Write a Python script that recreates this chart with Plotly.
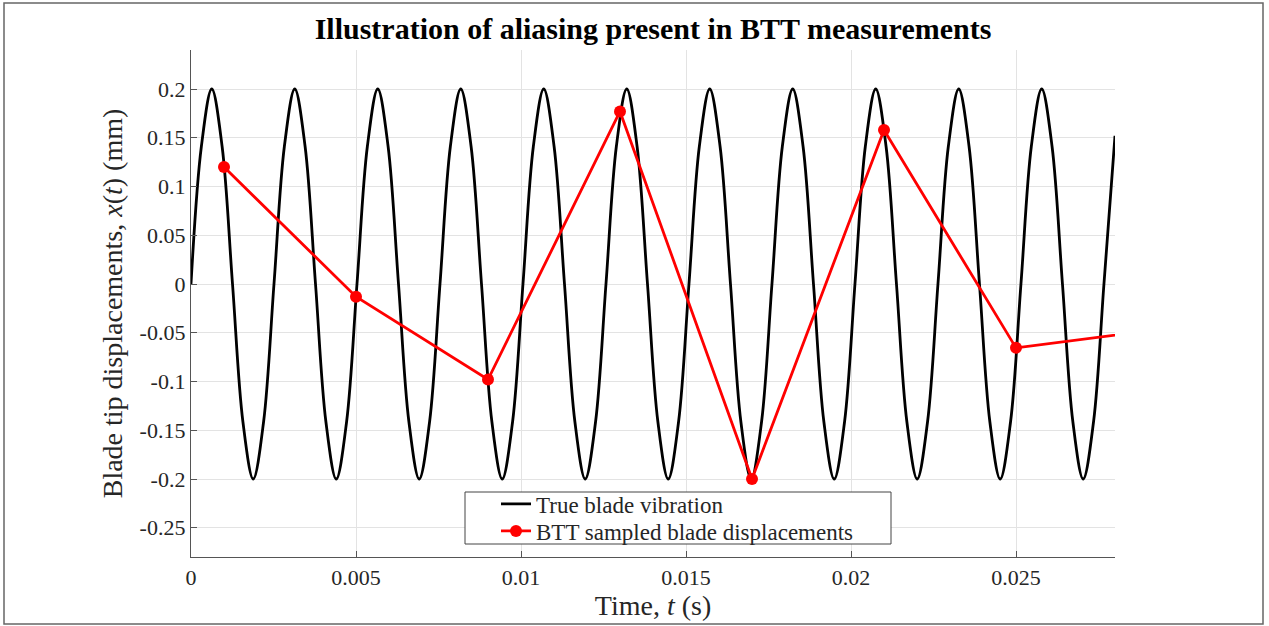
import plotly.graph_objects as go

# True blade vibration, read at eighth-period points
t_true = [0, 0.000314, 0.000629, 0.000943, 0.001258, 0.001572, 0.001886, 0.002201,
          0.002515, 0.002829, 0.003144, 0.003458, 0.003773, 0.004087, 0.004401, 0.004716,
          0.005030, 0.005344, 0.005659, 0.005973, 0.006288, 0.006602, 0.006916, 0.007231,
          0.007545, 0.007859, 0.008174, 0.008488, 0.008803, 0.009117, 0.009431, 0.009746,
          0.010060, 0.010374, 0.010689, 0.011003, 0.011318, 0.011632, 0.011946, 0.012261,
          0.012575, 0.012889, 0.013204, 0.013518, 0.013833, 0.014147, 0.014461, 0.014776,
          0.015090, 0.015404, 0.015719, 0.016033, 0.016348, 0.016662, 0.016976, 0.017291,
          0.017605, 0.017919, 0.018234, 0.018548, 0.018863, 0.019177, 0.019491, 0.019806,
          0.020120, 0.020434, 0.020749, 0.021063, 0.021378, 0.021692, 0.022006, 0.022321,
          0.022635, 0.022949, 0.023264, 0.023578, 0.023893, 0.024207, 0.024521, 0.024836,
          0.025150, 0.025464, 0.025779, 0.026093, 0.026408, 0.026722, 0.027036, 0.027351,
          0.027665, 0.028]
x_true = [0, 0.141, 0.2, 0.141, 0, -0.141, -0.2, -0.141,
          0, 0.141, 0.2, 0.141, 0, -0.141, -0.2, -0.141,
          0, 0.141, 0.2, 0.141, 0, -0.141, -0.2, -0.141,
          0, 0.141, 0.2, 0.141, 0, -0.141, -0.2, -0.141,
          0, 0.141, 0.2, 0.141, 0, -0.141, -0.2, -0.141,
          0, 0.141, 0.2, 0.141, 0, -0.141, -0.2, -0.141,
          0, 0.141, 0.2, 0.141, 0, -0.141, -0.2, -0.141,
          0, 0.141, 0.2, 0.141, 0, -0.141, -0.2, -0.141,
          0, 0.141, 0.2, 0.141, 0, -0.141, -0.2, -0.141,
          0, 0.141, 0.2, 0.141, 0, -0.141, -0.2, -0.141,
          0, 0.141, 0.2, 0.141, 0, -0.141, -0.2, -0.141,
          0, 0.152]

# BTT sampled displacements
t_btt = [0.001, 0.005, 0.009, 0.013, 0.017, 0.021, 0.025, 0.029]
x_btt = [0.12, -0.013, -0.098, 0.177, -0.2, 0.158, -0.0655, -0.048]

x_tickvals = [0, 0.005, 0.01, 0.015, 0.02, 0.025]
x_ticktext = ["0", "0.005", "0.01", "0.015", "0.02", "0.025"]
y_tickvals = [-0.25, -0.2, -0.15, -0.1, -0.05, 0, 0.05, 0.1, 0.15, 0.2]
y_ticktext = ["-0.25", "-0.2", "-0.15", "-0.1", "-0.05", "0", "0.05", "0.1", "0.15", "0.2"]

SERIF = "Liberation Serif"
TXT = "#262626"

L, R, T, B = 191, 154, 50, 69
W, H = 1269, 626
pw, ph = W - L - R, H - T - B

def px2x(px):
    return (px - L) / pw

def py2y(py):
    return (H - B - py) / ph

fig = go.Figure()
fig.add_trace(go.Scatter(x=t_true, y=x_true, mode="lines", name="True blade vibration",
                         legend="legend",
                         line=dict(color="black", width=2.8, shape="spline", smoothing=1.0)))
fig.add_trace(go.Scatter(x=t_btt, y=x_btt, mode="lines+markers", name="BTT sampled blade displacements",
                         legend="legend2",
                         line=dict(color="#ff0000", width=2.8),
                         marker=dict(color="#ff0000", size=12)))

leg_common = dict(xanchor="left", yanchor="middle", bgcolor="rgba(0,0,0,0)", borderwidth=0,
                  font=dict(family=SERIF, size=23, color=TXT))

fig.update_layout(
    width=W, height=H,
    margin=dict(l=L, r=R, t=T, b=B),
    paper_bgcolor="white", plot_bgcolor="white",
    font=dict(family=SERIF, color=TXT, size=22),
    title=dict(text="<b>Illustration of aliasing present in BTT measurements</b>",
               x=0.5, xref="paper", xanchor="center",
               y=1 - 28 / H, yref="container", yanchor="middle",
               font=dict(family=SERIF, size=30, color="black")),
    showlegend=True,
    legend=dict(x=px2x(496), y=py2y(504), **leg_common),
    legend2=dict(x=px2x(496), y=py2y(531), **leg_common),
    xaxis=dict(range=[0, 0.028], tickvals=x_tickvals, ticktext=x_ticktext,
               showgrid=True, gridcolor="#e3e3e3", gridwidth=1, zeroline=False,
               showline=True, linecolor="#555555", linewidth=1.3,
               ticks="inside", ticklen=6, tickcolor="#555555",
               tickfont=dict(size=22, color=TXT, family=SERIF),
               title=dict(text="Time, <i>t</i> (s)", font=dict(size=28, color=TXT, family=SERIF),
                          standoff=5)),
    yaxis=dict(range=[-0.28, 0.24], tickvals=y_tickvals, ticktext=y_ticktext,
               showgrid=True, gridcolor="#e3e3e3", gridwidth=1, zeroline=False,
               showline=True, linecolor="#555555", linewidth=1.3,
               ticks="inside", ticklen=6, tickcolor="#555555",
               tickfont=dict(size=22, color=TXT, family=SERIF),
               title=dict(text="Blade tip displacements, <i>x</i>(<i>t</i>) (mm)",
                          font=dict(size=28, color=TXT, family=SERIF), standoff=8)),
)

# legend box
fig.add_shape(type="rect", xref="paper", yref="paper",
              x0=px2x(465), x1=px2x(891), y0=py2y(544), y1=py2y(492),
              line=dict(color="#444444", width=1), fillcolor="white", layer="above")
# outer frame
fig.add_shape(type="rect", xref="paper", yref="paper",
              x0=px2x(4), x1=px2x(1263), y0=py2y(624), y1=py2y(3),
              line=dict(color="#666666", width=1.5), fillcolor="rgba(0,0,0,0)", layer="below")

fig.write_html("out.html")
